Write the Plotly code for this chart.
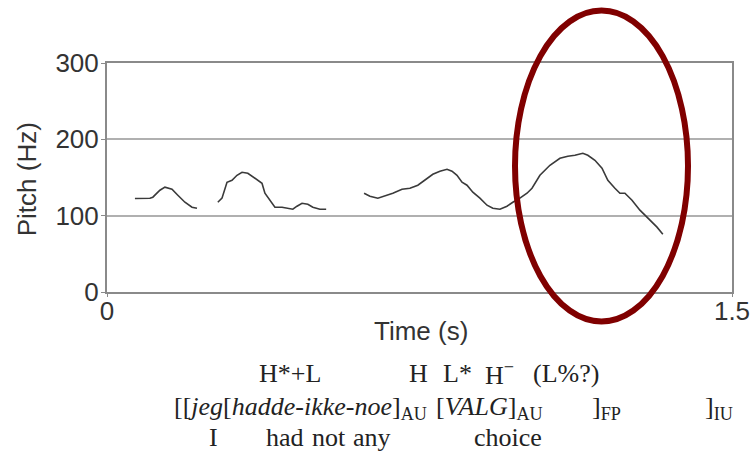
import plotly.graph_objects as go

# ---- data ----
seg1_t = [0.067, 0.103, 0.110, 0.127, 0.139, 0.156, 0.170, 0.187, 0.204, 0.216]
seg1_hz = [122.5, 122.9, 124.2, 133.3, 137.3, 134.6, 126.8, 117.6, 111.1, 109.8]

seg2_t = [0.266, 0.276, 0.288, 0.300, 0.312, 0.324, 0.338, 0.355, 0.372, 0.379, 0.391,
          0.403, 0.420, 0.432, 0.446, 0.456, 0.468, 0.482, 0.494, 0.511, 0.526]
seg2_hz = [117.6, 122.9, 143.8, 146.4, 152.9, 156.9, 155.6, 149.0, 142.5, 129.4, 120.3,
           111.1, 111.1, 109.8, 108.5, 112.4, 116.3, 115.0, 111.1, 108.5, 108.5]

seg3_t = [0.617, 0.631, 0.650, 0.672, 0.686, 0.708, 0.727, 0.746, 0.763, 0.782, 0.799,
          0.816, 0.828, 0.840, 0.852, 0.864, 0.878, 0.895, 0.912, 0.926, 0.943, 0.960,
          0.974, 0.991, 1.008, 1.020, 1.039, 1.063, 1.087, 1.106, 1.123, 1.142, 1.154,
          1.171, 1.188, 1.202, 1.219, 1.231, 1.243, 1.260, 1.279, 1.298, 1.320, 1.334]
seg3_hz = [129.4, 125.5, 122.9, 126.8, 129.4, 134.6, 135.9, 139.9, 146.4, 154.2, 158.2,
           160.8, 158.2, 152.9, 143.8, 139.9, 130.7, 122.9, 113.7, 109.8, 108.5, 112.4,
           117.6, 122.9, 129.4, 135.9, 152.9, 166.0, 175.2, 177.8, 179.1, 181.7, 179.1,
           172.5, 162.1, 146.4, 135.9, 129.4, 129.4, 120.3, 107.2, 96.7, 85.0, 75.8]

y_ticks = [0, 100, 200, 300]
x_ticks = [0, 1.5]
x_tick_labels = ["0", "1.5"]

# tonal labels (pixel centres)
tones = ["H*+L", "H", "L*", "H<sup>−</sup>", "(L%?)"]
tone_x = [290, 418, 457, 499, 566]
# phrase line, split into pieces (left pixel edge, or right edge for the last)
phrase_parts = ["[[<i>jeg</i>[<i>hadde-ikke-noe</i>]<sub>AU</sub>",
                "[<i>VALG</i>]<sub>AU</sub>",
                "]<sub>FP</sub>",
                "]<sub>IU</sub>"]
phrase_x = [172, 434, 590, 735]
phrase_anchor = ["left", "left", "left", "right"]
# English gloss (pixel centres)
gloss = ["I", "had", "not", "any", "choice"]
gloss_x = [213, 285, 329, 372, 508]

# ---- layout geometry ----
W, H = 753, 455
L, R, T, B = 107, 21, 62.5, 163
PW, PH = W - L - R, H - T - B


def px(x):
    return (x - L) / PW


def py(y):
    return (H - B - y) / PH


SANS = "Liberation Sans, Arial, sans-serif"
SERIF = "Liberation Serif, Times New Roman, serif"
SERIF_SIZE = 26

fig = go.Figure()
for t, hz in [(seg1_t, seg1_hz), (seg2_t, seg2_hz), (seg3_t, seg3_hz)]:
    fig.add_trace(go.Scatter(x=t, y=hz, mode="lines",
                             line=dict(color="#3a3a3a", width=1.6),
                             showlegend=False, hoverinfo="skip"))

fig.update_layout(
    width=W, height=H,
    margin=dict(l=L, r=R, t=T, b=B, pad=0, autoexpand=False),
    paper_bgcolor="white", plot_bgcolor="white",
    font=dict(family=SANS, size=26, color="#333333"),
    xaxis=dict(range=[0, 1.5], tickvals=x_ticks, ticktext=x_tick_labels,
               automargin=False,
               showgrid=False, zeroline=False, showline=True, mirror=True,
               linecolor="#8a8a8a", linewidth=2, ticks="outside", ticklen=3,
               tickcolor="#8a8a8a", ticklabelstandoff=-8,
               tickfont=dict(size=26, color="#333333")),
    yaxis=dict(range=[0, 300], tickvals=y_ticks, showgrid=True, automargin=False,
               gridcolor="#b0b0b0", gridwidth=2, zeroline=False,
               showline=True, mirror=True, linecolor="#8a8a8a", linewidth=2,
               ticks="outside", ticklen=4, tickcolor="#8a8a8a",
               ticklabelstandoff=-3,
               tickfont=dict(size=26, color="#333333")),
)

ann = []
ann.append(dict(text="Pitch (Hz)", x=px(27), y=py(179), xref="paper", yref="paper",
                xanchor="center", yanchor="middle", textangle=-90, showarrow=False,
                font=dict(family=SANS, size=26, color="#333333")))
ann.append(dict(text="Time (s)", x=px(421), y=py(331), xref="paper", yref="paper",
                xanchor="center", yanchor="middle", showarrow=False,
                font=dict(family=SANS, size=26, color="#333333")))
for txt, x in zip(tones, tone_x):
    ann.append(dict(text=txt, x=px(x), y=py(374), xref="paper", yref="paper",
                    xanchor="center", yanchor="middle", showarrow=False,
                    font=dict(family=SERIF, size=SERIF_SIZE, color="#222222")))
for txt, x, a in zip(phrase_parts, phrase_x, phrase_anchor):
    ann.append(dict(text=txt, x=px(x), y=py(408), xref="paper", yref="paper",
                    xanchor=a, yanchor="middle", showarrow=False,
                    font=dict(family=SERIF, size=SERIF_SIZE, color="#222222")))
for txt, x in zip(gloss, gloss_x):
    ann.append(dict(text=txt, x=px(x), y=py(438), xref="paper", yref="paper",
                    xanchor="center", yanchor="middle", showarrow=False,
                    font=dict(family=SERIF, size=SERIF_SIZE, color="#222222")))
fig.update_layout(annotations=ann)

fig.add_shape(type="circle", xref="paper", yref="paper",
              x0=px(515), x1=px(688), y0=py(321.5), y1=py(10),
              line=dict(color="#800000", width=6), fillcolor="rgba(0,0,0,0)")

fig.write_html("out.html")
